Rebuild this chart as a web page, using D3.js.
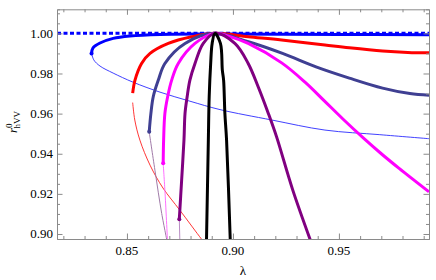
<!DOCTYPE html>
<html>
<head>
<meta charset="utf-8">
<script src="https://cdn.jsdelivr.net/npm/d3@7"></script>
<style>
  body { margin: 0; background: #fff; }
  svg { display: block; }
  svg text { font-family: 'Liberation Serif', 'Times New Roman', 'DejaVu Serif', serif; font-size: 13px; fill: #000; }
</style>
</head>
<body>
<svg id="chart"></svg>
<script>
// values, [lambda, r]
const refLevel = 1.0;
const xMajor = [0.85, 0.90, 0.95];
const yMajor = [0.90, 0.92, 0.94, 0.96, 0.98, 1.00];

const blueThick = [[0.8333,0.9900],[0.8340,0.9928],[0.8373,0.9952],[0.8435,0.9975],[0.8514,0.9987],[0.8656,0.9995],[0.8915,0.9997],[0.9500,0.9995],[0.9925,0.9993]];
const blueThin = [[0.8333,0.9900],[0.8344,0.9867],[0.8373,0.9837],[0.8435,0.9802],[0.8528,0.9757],[0.8656,0.9707],[0.8797,0.9662],[0.8939,0.9620],[0.9184,0.9568],[0.9434,0.9518],[0.9693,0.9495],[0.9925,0.9475]];
const redThick = [[0.8527,0.9702],[0.8538,0.9767],[0.8569,0.9850],[0.8609,0.9900],[0.8695,0.9950],[0.8805,0.9983],[0.8915,1.0],[0.9072,0.9983],[0.9230,0.9967],[0.9434,0.9942],[0.9549,0.9928],[0.9706,0.9912],[0.9825,0.9905],[0.9925,0.9903]];
const redThin = [[0.8527,0.9655],[0.8537,0.9568],[0.8561,0.9468],[0.8609,0.9343],[0.8670,0.9229],[0.8750,0.9118],[0.8852,0.8974],[0.8870,0.8950]];
const slateThick = [[0.8605,0.9509],[0.8613,0.9601],[0.8624,0.9684],[0.8648,0.9767],[0.8679,0.9850],[0.8774,0.9950],[0.8915,1.0],[0.9073,0.9958],[0.9234,0.9900],[0.9392,0.9833],[0.9549,0.9777],[0.9706,0.9727],[0.9835,0.9700],[0.9925,0.9692]];
const slateThin = [[0.8605,0.9509],[0.8632,0.9318],[0.8664,0.9102],[0.8692,0.8950]];
const magentaThick = [[0.8671,0.9352],[0.8673,0.9468],[0.8679,0.9601],[0.8692,0.9684],[0.8711,0.9767],[0.8742,0.9850],[0.8821,0.9950],[0.8915,1.0],[0.8986,0.9984],[0.9072,0.9950],[0.9230,0.9853],[0.9340,0.9757],[0.9430,0.9665],[0.9520,0.9572],[0.9620,0.9474],[0.9700,0.9400],[0.9784,0.9327],[0.9925,0.9210]];
const magentaThin = [[0.8671,0.9352],[0.8680,0.9200],[0.8692,0.8950]];
const purpleThick = [[0.8747,0.9074],[0.8758,0.9268],[0.8769,0.9468],[0.8774,0.9601],[0.8784,0.9684],[0.8797,0.9767],[0.8821,0.9850],[0.8860,0.9950],[0.8915,1.0],[0.9009,0.9950],[0.9072,0.9850],[0.9119,0.9734],[0.9167,0.9601],[0.9206,0.9484],[0.9282,0.9220],[0.9372,0.8950]];
const purpleThin = [[0.8747,0.9074],[0.8750,0.8950]];
const blackThick = [[0.8875,0.8950],[0.8884,0.9468],[0.8888,0.9684],[0.8895,0.9850],[0.8902,0.9950],[0.8915,1.0],[0.8941,0.9950],[0.8950,0.9817],[0.8956,0.9767],[0.8962,0.9601],[0.8970,0.9468],[0.8988,0.8950]];

const width = 436, height = 280;
const mLeft = 57, mRight = 429, mTop = 9.3, mBottom = 239;

const svg = d3.select('#chart').attr('width', width).attr('height', height);

const x = d3.scaleLinear().domain([0.817, 0.9925]).range([mLeft, mRight]);
const y = d3.scaleLinear().domain([0.8975, 1.012]).range([mBottom, mTop]);

svg.append('clipPath').attr('id', 'plot')
  .append('rect')
  .attr('x', mLeft).attr('y', mTop)
  .attr('width', mRight - mLeft).attr('height', mBottom - mTop);

const plot = svg.append('g').attr('clip-path', 'url(#plot)');

const line = d3.line()
  .x(d => x(d[0]))
  .y(d => y(d[1]))
  .curve(d3.curveCatmullRom.alpha(0.5));

function draw(data, color, w) {
  plot.append('path')
    .attr('d', line(data))
    .attr('fill', 'none')
    .attr('stroke', color)
    .attr('stroke-width', w)
    .attr('stroke-linejoin', 'round');
}

// thin branches
draw(blueThin, '#2b2bff', 0.9);
draw(redThin, '#ff2020', 0.9);
draw(slateThin, '#a07aa8', 1);
draw(magentaThin, '#ff70ff', 1);
draw(purpleThin, '#b98cc4', 1);

// thick branches
draw(blueThick, '#0000ff', 3);
plot.append('path')
  .attr('d', line(x.domain().map(v => [v, refLevel])))
  .attr('fill', 'none')
  .attr('stroke', '#0000ff')
  .attr('stroke-width', 3)
  .attr('stroke-dasharray', '4,2.5');
draw(redThick, '#ff0000', 3);
draw(slateThick, '#3f3f92', 3);
draw(magentaThick, '#ff00ff', 3);
draw(purpleThick, '#800080', 3);
draw(blackThick, '#000000', 3);

// end points of the thick branches
[[blueThick, '#0000ff'], [slateThick, '#3f3f92'], [magentaThick, '#ff00ff'], [purpleThick, '#800080']]
  .forEach(([data, color]) => {
    plot.append('circle')
      .attr('cx', x(data[0][0]))
      .attr('cy', y(data[0][1]))
      .attr('r', 2)
      .attr('fill', color);
  });

// frame and ticks
const frameColor = '#8a8a8a';
const xMinor = d3.range(0.82, 0.9925, 0.01).map(v => +v.toFixed(2));
const yMinor = d3.range(0.90, 1.012, 0.005).map(v => +v.toFixed(3));

const axisB = d3.axisBottom(x).tickValues(xMinor).tickSize(-3).tickFormat('');
const axisT = d3.axisTop(x).tickValues(xMinor).tickSize(-3).tickFormat('');
const axisL = d3.axisLeft(y).tickValues(yMinor).tickSize(-3).tickFormat('');
const axisR = d3.axisRight(y).tickValues(yMinor).tickSize(-3).tickFormat('');

const gB = svg.append('g').attr('transform', 'translate(0,' + mBottom + ')').call(axisB);
const gT = svg.append('g').attr('transform', 'translate(0,' + mTop + ')').call(axisT);
const gL = svg.append('g').attr('transform', 'translate(' + mLeft + ',0)').call(axisL);
const gR = svg.append('g').attr('transform', 'translate(' + mRight + ',0)').call(axisR);

// longer major ticks
const isMajor = (list, d) => list.some(m => Math.abs(m - d) < 1e-6);
gB.selectAll('.tick').filter(d => isMajor(xMajor, d)).select('line').attr('y2', -5.5);
gT.selectAll('.tick').filter(d => isMajor(xMajor, d)).select('line').attr('y2', 5.5);
gL.selectAll('.tick').filter(d => isMajor(yMajor, d)).select('line').attr('x2', 5.5);
gR.selectAll('.tick').filter(d => isMajor(yMajor, d)).select('line').attr('x2', -5.5);

[gB, gT, gL, gR].forEach(g => {
  g.select('.domain').attr('stroke', frameColor);
  g.selectAll('.tick line').attr('stroke', frameColor);
});

// tick labels
svg.append('g').selectAll('text')
  .data(xMajor).enter().append('text')
  .attr('x', d => x(d))
  .attr('y', 254.5)
  .attr('text-anchor', 'middle')
  .text(d => d.toFixed(2));

svg.append('g').selectAll('text')
  .data(yMajor).enter().append('text')
  .attr('x', 53)
  .attr('y', d => y(d) + 4.5)
  .attr('text-anchor', 'end')
  .text(d => d.toFixed(2));

// axis titles
svg.append('text')
  .attr('x', 243)
  .attr('y', 275)
  .attr('text-anchor', 'middle')
  .text('λ');

const yTitle = svg.append('text')
  .attr('transform', 'translate(17,122) rotate(-90)')
  .attr('text-anchor', 'middle');
yTitle.append('tspan').attr('font-style', 'italic').text('r');
yTitle.append('tspan').style('font-size', '9px').attr('dy', -5).text('0');
yTitle.append('tspan').style('font-size', '9px').attr('dx', -5).attr('dy', 8).text('hVV');
</script>
</body>
</html>
